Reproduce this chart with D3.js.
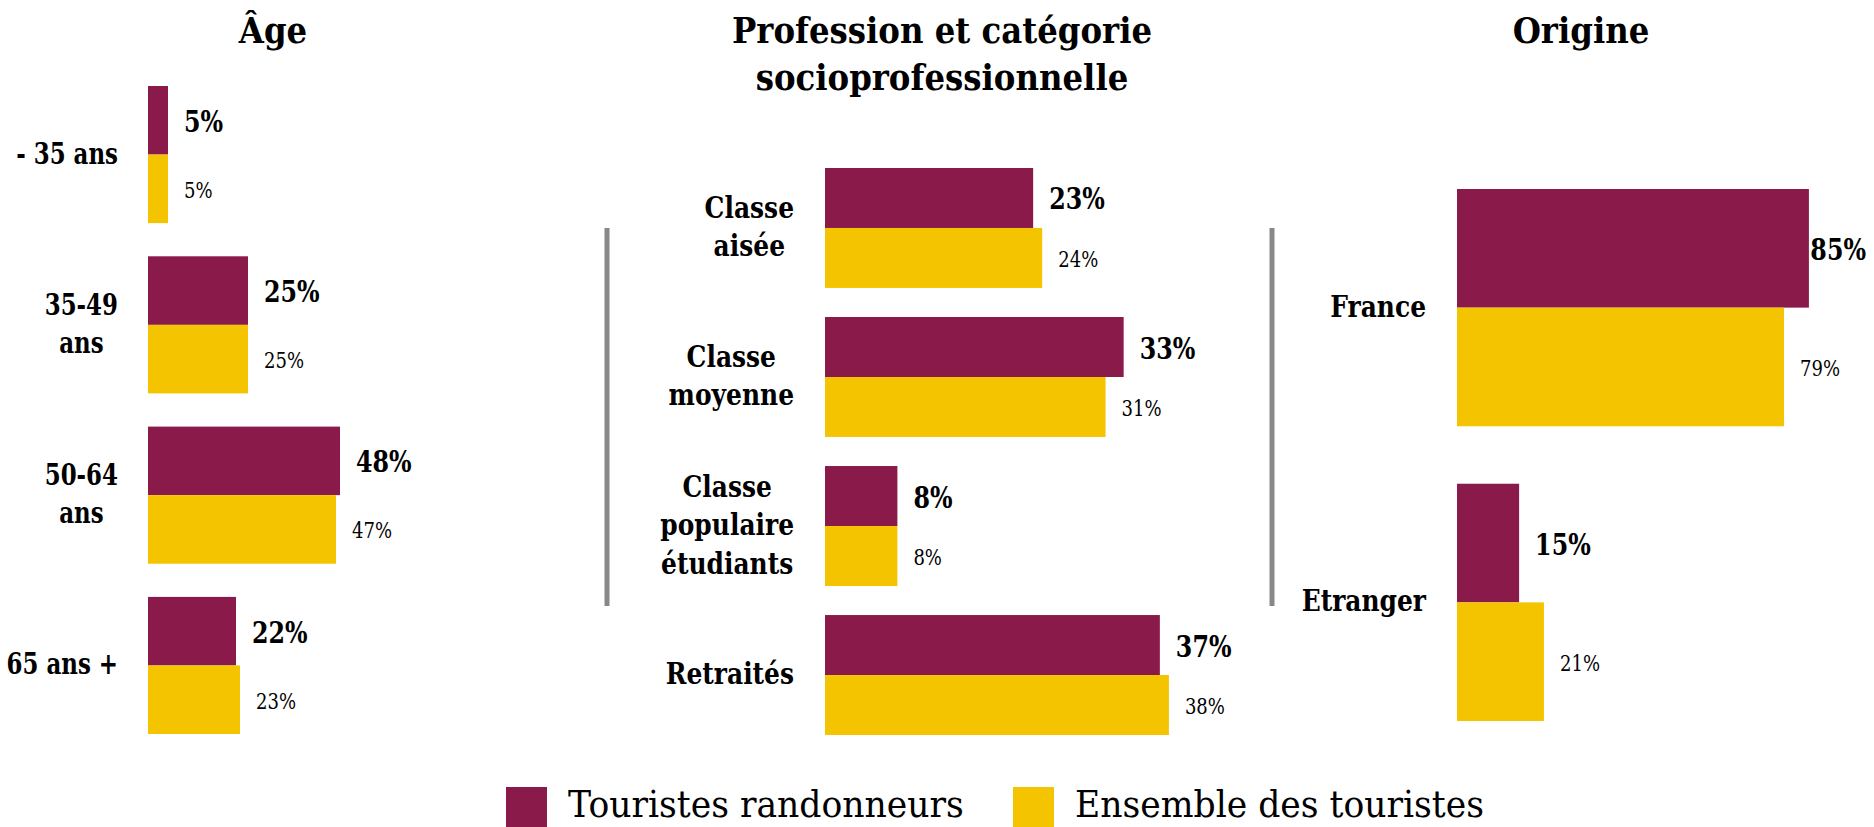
<!DOCTYPE html>
<html><head><meta charset="utf-8">
<script src="https://cdn.jsdelivr.net/npm/d3@7"></script>
<style>body{margin:0;background:#fff}svg{display:block}</style>
</head><body>
<svg id="chart" width="1874" height="827"></svg>
<script>
// ---------- DATA ----------
const seriesNames = ["Touristes randonneurs", "Ensemble des touristes"];
const panelTitles = [["Âge"], ["Profession et catégorie", "socioprofessionnelle"], ["Origine"]];

const ageCategories = ["- 35 ans", "35-49\nans", "50-64\nans", "65 ans +"];
const ageRandonneurs = [5, 25, 48, 22];
const ageEnsemble = [5, 25, 47, 23];

const cspCategories = ["Classe\naisée", "Classe\nmoyenne", "Classe\npopulaire\nétudiants", "Retraités"];
const cspRandonneurs = [23, 33, 8, 37];
const cspEnsemble = [24, 31, 8, 38];

const origineCategories = ["France", "Etranger"];
const origineRandonneurs = [85, 15];
const origineEnsemble = [79, 21];

// ---------- STYLE / LAYOUT ----------
const W = 1874, H = 827;
const colors = ["#8A1A4A", "#F5C400"];
const FONT = "'DejaVu Serif', serif";

const svg = d3.select("#chart");

function addText(parent, x, y, s, size, weight, anchor, sx) {
  return parent.append("text")
    .attr("transform", `translate(${x},${y}) scale(${sx},1)`)
    .attr("text-anchor", anchor)
    .style("font-family", FONT)
    .style("font-size", size + "px")
    .style("font-weight", weight)
    .style("fill", "#000")
    .text(s);
}

const panels = [
  {title: panelTitles[0], titleX: 273, cats: ageCategories, vals: [ageRandonneurs, ageEnsemble],
   x0: 148, pxPer: 4.0, y: [86, 734], labelRight: 118, labelSX: 0.79},
  {title: panelTitles[1], titleX: 942, cats: cspCategories, vals: [cspRandonneurs, cspEnsemble],
   x0: 825, pxPer: 9.05, y: [168, 735], labelRight: 794, labelSX: 0.86},
  {title: panelTitles[2], titleX: 1581, cats: origineCategories, vals: [origineRandonneurs, origineEnsemble],
   x0: 1457, pxPer: 4.14, y: [189, 721], labelRight: 1426, labelSX: 0.86}
];

panels.forEach(p => {
  const g = svg.append("g");
  // title
  p.title.forEach((t, i) => addText(g, p.titleX, 43 + i * 47, t, 36, 700, "middle", 0.9));

  const x = d3.scaleLinear().domain([0, 100]).range([p.x0, p.x0 + 100 * p.pxPer]);
  const y = d3.scaleBand().domain(p.cats).range(p.y).paddingInner(0.195).paddingOuter(0);
  const ySub = d3.scaleBand().domain([0, 1]).range([0, y.bandwidth()]);

  const rows = [];
  p.cats.forEach((c, ci) => [0, 1].forEach(si => rows.push({c, si, v: p.vals[si][ci]})));

  g.selectAll("rect.bar").data(rows).join("rect")
    .attr("class", "bar")
    .attr("x", x(0))
    .attr("y", d => y(d.c) + ySub(d.si))
    .attr("width", d => x(d.v) - x(0))
    .attr("height", ySub.bandwidth())
    .attr("fill", d => colors[d.si]);

  // value labels
  const VSX = 0.82;
  rows.forEach(d => {
    const cy = y(d.c) + ySub(d.si) + ySub.bandwidth() / 2;
    const bold = d.si === 0;
    const t = addText(g, 0, 0, d.v + "%", bold ? 29 : 22, bold ? 700 : 400, "start", VSX);
    const w = t.node().getComputedTextLength() * VSX;
    let tx = x(d.v) + 16;
    if (tx + w > W - 8) tx = W - 8 - w;
    t.attr("transform", `translate(${tx},${cy + (bold ? 11.5 : 9)}) scale(${VSX},1)`);
  });

  // category labels
  const LSX = p.labelSX;
  p.cats.forEach(c => {
    const lines = c.split("\n");
    const cy = y(c) + y.bandwidth() / 2;
    const lh = 38.5;
    const texts = lines.map(l => addText(g, 0, 0, l, 29, 700, "middle", LSX));
    const maxW = d3.max(texts, t => t.node().getComputedTextLength() * LSX);
    const cx = p.labelRight - maxW / 2;
    texts.forEach((t, i) => {
      const by = cy + (i - (lines.length - 1) / 2) * lh + 9;
      t.attr("transform", `translate(${cx},${by}) scale(${LSX},1)`);
    });
  });
});

// separators
[607, 1272].forEach(sx => {
  svg.append("line").attr("x1", sx).attr("x2", sx).attr("y1", 228).attr("y2", 606)
    .attr("stroke", "#888").attr("stroke-width", 5);
});

// legend
const legendX = [506, 1013];
seriesNames.forEach((n, i) => {
  svg.append("rect").attr("x", legendX[i]).attr("y", 787).attr("width", 41).attr("height", 41)
    .attr("fill", colors[i]);
  addText(svg, legendX[i] + 62, 817, n, 38, 400, "start", 0.91);
});
</script>
</body></html>
